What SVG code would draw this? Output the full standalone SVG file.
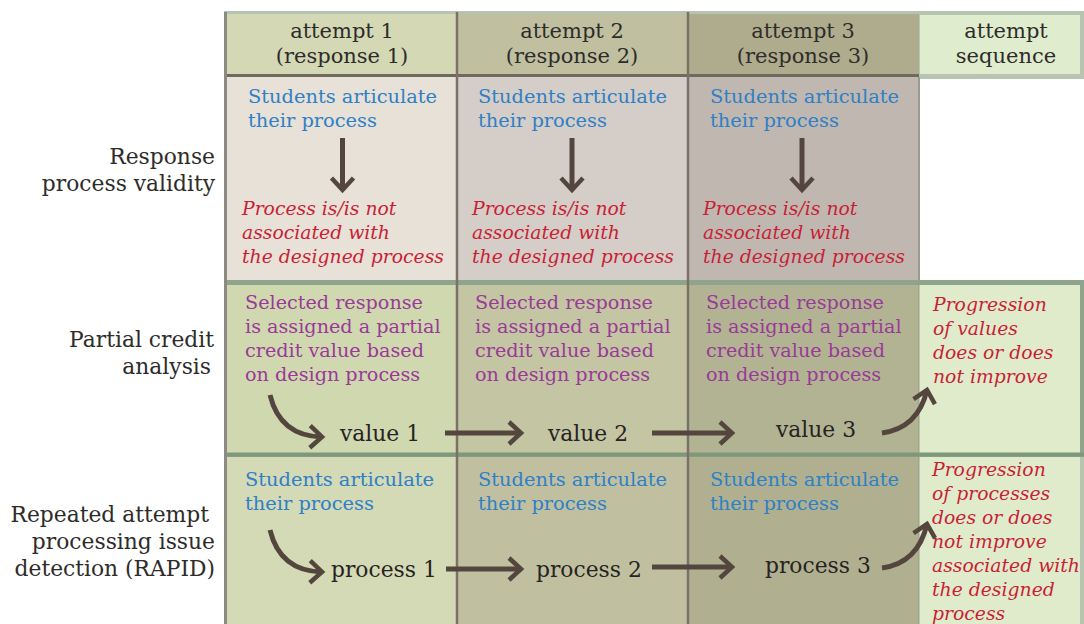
<svg xmlns="http://www.w3.org/2000/svg" width="1084" height="624" viewBox="0 0 1084 624">
<defs>
<style>
text{font-family:"DejaVu Serif","Liberation Serif",serif}
.hdr{font-size:21px;fill:#2e2c2a;text-anchor:middle}
.lbl{font-size:21.8px;fill:#2e2c2a;text-anchor:end}
.blue{font-size:19.4px;fill:#2f80c6}
.red{font-size:18.8px;fill:#c81f36;font-style:italic}
.pur{font-size:19.2px;fill:#9a3a98}
.val{font-size:21.8px;fill:#262322}
.arr{fill:none;stroke:#54463f;stroke-width:5}
.div{stroke:#7b7169;stroke-width:2.5}
</style>
<marker id="ah" markerUnits="userSpaceOnUse" markerWidth="30" markerHeight="30" refX="0" refY="0" viewBox="-15 -15 30 30" orient="auto" overflow="visible">
<path d="M-12,-11 L0,0 L-12,11" fill="none" stroke="#54463f" stroke-width="4.5" stroke-linejoin="miter"/>
</marker>
</defs>
<rect width="1084" height="624" fill="#ffffff"/>
<g id="grid">
<rect x="224" y="11" width="860" height="68" fill="#b7c4b2"/>
<rect x="226" y="14" width="231" height="61" fill="#d4d8b4"/>
<rect x="457" y="14" width="231" height="61" fill="#c0bf9f"/>
<rect x="688" y="14" width="231" height="61" fill="#aeac8c"/>
<rect x="920" y="15" width="160" height="59" fill="#e0ecce"/>
<line x1="225" y1="75.5" x2="919" y2="75.5" stroke="#6f695f" stroke-width="3"/>
<rect x="226" y="77" width="231" height="204" fill="#e7e1d7"/>
<rect x="457" y="77" width="231" height="204" fill="#d5cdc7"/>
<rect x="688" y="77" width="231" height="204" fill="#c0b7b1"/>
<line x1="919" y1="77" x2="919" y2="281" stroke="#a59c95" stroke-width="2"/>
<rect x="224" y="280" width="860" height="177" fill="#8fa48c"/>
<rect x="227" y="285" width="230" height="168" fill="#d0d8b0"/>
<rect x="457" y="285" width="231" height="168" fill="#c3c5a3"/>
<rect x="688" y="285" width="231" height="168" fill="#b2b393"/>
<rect x="919" y="285" width="161" height="168" fill="#e0ebcc"/>
<rect x="224" y="457" width="860" height="167" fill="#b7c4b2"/>
<rect x="227" y="457" width="230" height="167" fill="#d4d9b6"/>
<rect x="457" y="457" width="231" height="167" fill="#c0c0a1"/>
<rect x="688" y="457" width="231" height="167" fill="#b0b090"/>
<rect x="919" y="457" width="161" height="167" fill="#e0ebcc"/>
<line x1="224" y1="454.5" x2="1084" y2="454.5" stroke="#7f987b" stroke-width="4"/>
<line x1="224" y1="282" x2="1084" y2="282" stroke="#8fa48c" stroke-width="4"/>
<line x1="225.5" y1="12" x2="225.5" y2="624" stroke="#8c8a82" stroke-width="3"/>
<line class="div" x1="457" y1="12" x2="457" y2="624"/>
<line class="div" x1="688" y1="12" x2="688" y2="624"/>
<line x1="919" y1="77" x2="919" y2="624" stroke="#8f9a86" stroke-width="1.5" opacity="0.6"/>
</g>
<g id="header">
<text class="hdr" x="342" y="38">attempt 1</text>
<text class="hdr" x="342" y="63">(response 1)</text>
<text class="hdr" x="572" y="38">attempt 2</text>
<text class="hdr" x="572" y="63">(response 2)</text>
<text class="hdr" x="803" y="38">attempt 3</text>
<text class="hdr" x="803" y="63">(response 3)</text>
<text class="hdr" x="1006" y="38">attempt</text>
<text class="hdr" x="1006" y="63">sequence</text>
</g>
<g id="row-labels">
<text class="lbl" x="215" y="164">Response</text>
<text class="lbl" x="215" y="191">process validity</text>
<text class="lbl" x="214" y="347">Partial credit</text>
<text class="lbl" x="211" y="374">analysis</text>
<text class="lbl" x="209" y="522">Repeated attempt</text>
<text class="lbl" x="215" y="549">processing issue</text>
<text class="lbl" x="215" y="576">detection (RAPID)</text>
</g>
<g id="rpv-1">
<text class="blue" x="248" y="103">Students articulate</text>
<text class="blue" x="248" y="127">their process</text>
<text class="red" x="242" y="215">Process is/is not</text>
<text class="red" x="242" y="239">associated with</text>
<text class="red" x="242" y="263">the designed process</text>
</g>
<g id="rpv-2">
<text class="blue" x="478" y="103">Students articulate</text>
<text class="blue" x="478" y="127">their process</text>
<text class="red" x="472" y="215">Process is/is not</text>
<text class="red" x="472" y="239">associated with</text>
<text class="red" x="472" y="263">the designed process</text>
</g>
<g id="rpv-3">
<text class="blue" x="710" y="103">Students articulate</text>
<text class="blue" x="710" y="127">their process</text>
<text class="red" x="703" y="215">Process is/is not</text>
<text class="red" x="703" y="239">associated with</text>
<text class="red" x="703" y="263">the designed process</text>
</g>
<g id="pca-1">
<text class="pur" x="245" y="309">Selected response</text>
<text class="pur" x="245" y="333">is assigned a partial</text>
<text class="pur" x="245" y="357">credit value based</text>
<text class="pur" x="245" y="381">on design process</text>
<text class="val" x="340" y="441">value 1</text>
</g>
<g id="pca-2">
<text class="pur" x="475" y="309">Selected response</text>
<text class="pur" x="475" y="333">is assigned a partial</text>
<text class="pur" x="475" y="357">credit value based</text>
<text class="pur" x="475" y="381">on design process</text>
<text class="val" x="548" y="441">value 2</text>
</g>
<g id="pca-3">
<text class="pur" x="706" y="309">Selected response</text>
<text class="pur" x="706" y="333">is assigned a partial</text>
<text class="pur" x="706" y="357">credit value based</text>
<text class="pur" x="706" y="381">on design process</text>
<text class="val" x="776" y="437">value 3</text>
</g>
<g id="pca-seq">
<text class="red" x="933" y="311">Progression</text>
<text class="red" x="933" y="335">of values</text>
<text class="red" x="933" y="359">does or does</text>
<text class="red" x="933" y="383">not improve</text>
</g>
<g id="rapid-1">
<text class="blue" x="245" y="486">Students articulate</text>
<text class="blue" x="245" y="510">their process</text>
<text class="val" x="331" y="577">process 1</text>
</g>
<g id="rapid-2">
<text class="blue" x="478" y="486">Students articulate</text>
<text class="blue" x="478" y="510">their process</text>
<text class="val" x="536" y="577">process 2</text>
</g>
<g id="rapid-3">
<text class="blue" x="710" y="486">Students articulate</text>
<text class="blue" x="710" y="510">their process</text>
<text class="val" x="765" y="573">process 3</text>
</g>
<g id="rapid-seq">
<text class="red" x="932" y="476">Progression</text>
<text class="red" x="932" y="500">of processes</text>
<text class="red" x="932" y="524">does or does</text>
<text class="red" x="932" y="548">not improve</text>
<text class="red" x="932" y="572">associated with</text>
<text class="red" x="932" y="596">the designed</text>
<text class="red" x="932" y="620">process</text>
</g>
<g id="connectors">
<path class="arr" d="M342.5,138 L342.5,190" marker-end="url(#ah)"/>
<path class="arr" d="M572,138 L572,190" marker-end="url(#ah)"/>
<path class="arr" d="M802,138 L802,190" marker-end="url(#ah)"/>
<path class="arr" d="M270,395 Q280,436 322,437" marker-end="url(#ah)"/>
<path class="arr" d="M445,433 L521,433" marker-end="url(#ah)"/>
<path class="arr" d="M652,433 L732,433" marker-end="url(#ah)"/>
<path class="arr" d="M882,433 Q918,428 927,390" marker-end="url(#ah)"/>
<path class="arr" d="M270,530 Q280,571 322,572" marker-end="url(#ah)"/>
<path class="arr" d="M446,569 L521,569" marker-end="url(#ah)"/>
<path class="arr" d="M652,567 L732,567" marker-end="url(#ah)"/>
<path class="arr" d="M882,568 Q918,563 927,524" marker-end="url(#ah)"/>
</g>
</svg>
